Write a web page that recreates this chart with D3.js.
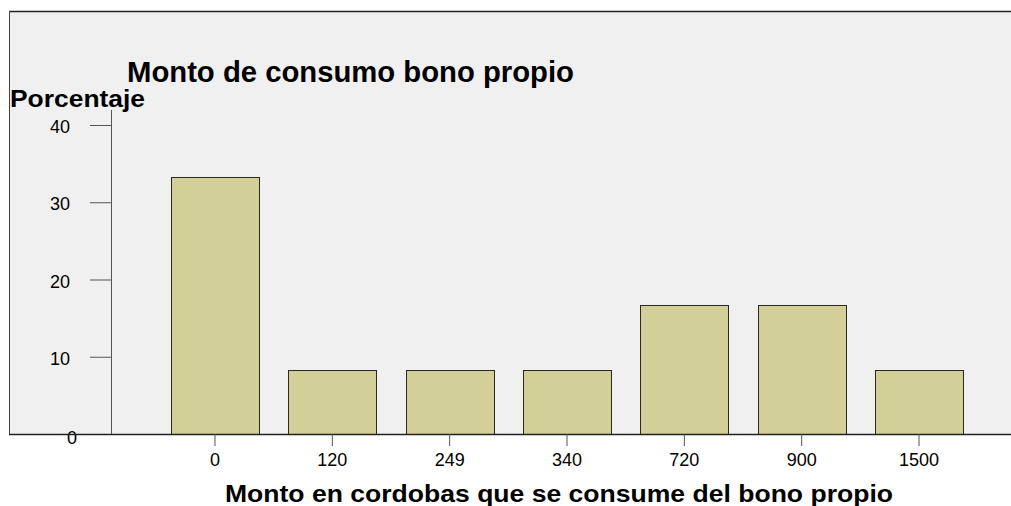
<!DOCTYPE html>
<html><head><meta charset="utf-8">
<script src="https://cdn.jsdelivr.net/npm/d3@7"></script>
<style>html,body{margin:0;padding:0;background:#fff;}svg{display:block;}</style>
</head><body>
<script>
const categories = ["0","120","249","340","720","900","1500"];
const percentages = [33.33, 8.33, 8.33, 8.33, 16.67, 16.67, 8.33];
const yTicks = [0, 10, 20, 30, 40];
const titleText = "Monto de consumo bono propio";
const yTitle = "Porcentaje";
const xTitle = "Monto en cordobas que se consume del bono propio";

const W = 1011, H = 506;
const svg = d3.select("body").append("svg").attr("width", W).attr("height", H);
const font = "Arial, 'Liberation Sans', sans-serif";

// panel
svg.append("rect").attr("x", 9).attr("y", 11).attr("width", W - 9).attr("height", 423).attr("fill", "#f0f0f0");
svg.append("line").attr("x1", 9).attr("x2", W).attr("y1", 11.5).attr("y2", 11.5).attr("stroke", "#222").attr("stroke-width", 1.5);
svg.append("line").attr("x1", 9.5).attr("x2", 9.5).attr("y1", 11).attr("y2", 434).attr("stroke", "#444").attr("stroke-width", 1);

const x = d3.scaleBand().domain(categories).range([156.3, 977.7]).paddingInner(0.25).paddingOuter(0.125);
const y = d3.scaleLinear().domain([0, 40]).range([434, 125]);

// bars
svg.selectAll("rect.bar").data(categories).enter().append("rect")
  .attr("class", "bar")
  .attr("x", d => Math.round(x(d)) + 0.5)
  .attr("y", (d, i) => Math.round(y(percentages[i])) + 0.5)
  .attr("width", Math.round(x.bandwidth()))
  .attr("height", (d, i) => y(0) - Math.round(y(percentages[i])))
  .attr("fill", "#d3cf98").attr("stroke", "#2a2a1a").attr("stroke-width", 1);

// y axis
svg.append("line").attr("x1", 111.5).attr("x2", 111.5).attr("y1", 110).attr("y2", 434).attr("stroke", "#555").attr("stroke-width", 1);
const yAx = svg.append("g").attr("transform", "translate(111,0)")
  .call(d3.axisLeft(y).tickValues(yTicks).tickSize(21).tickPadding(20).tickFormat(d3.format("d")));
yAx.select(".domain").remove();
yAx.selectAll(".tick line").attr("stroke", "#555");
yAx.selectAll(".tick text").attr("font-family", font).attr("font-size", 18).attr("fill", "#000")
  .attr("x", -41);
yAx.selectAll(".tick").filter(d => d === 0).select("text").attr("x", -34).attr("dy", "0.55em");
yAx.selectAll(".tick").filter(d => d !== 0).select("text").attr("dy", "0.42em");

// x axis
svg.append("line").attr("x1", 9).attr("x2", W).attr("y1", 434.5).attr("y2", 434.5).attr("stroke", "#222").attr("stroke-width", 1.5);
const xAx = svg.append("g").attr("transform", "translate(0,434)")
  .call(d3.axisBottom(x).tickSize(12).tickPadding(7));
xAx.select(".domain").remove();
xAx.selectAll(".tick line").attr("stroke", "#555");
xAx.selectAll(".tick text").attr("font-family", font).attr("font-size", 18).attr("fill", "#000");

// titles
svg.append("text").attr("x", 127).attr("y", 82).attr("font-family", font).attr("font-weight", "bold")
  .attr("font-size", 29.5).attr("textLength", 447).attr("lengthAdjust", "spacingAndGlyphs").text(titleText);
svg.append("text").attr("x", 10).attr("y", 107).attr("font-family", font).attr("font-weight", "bold")
  .attr("font-size", 24).attr("textLength", 135).attr("lengthAdjust", "spacingAndGlyphs").text(yTitle);
svg.append("text").attr("x", 225).attr("y", 502).attr("font-family", font).attr("font-weight", "bold")
  .attr("font-size", 24).attr("textLength", 668).attr("lengthAdjust", "spacingAndGlyphs").text(xTitle);
</script>
</body></html>
